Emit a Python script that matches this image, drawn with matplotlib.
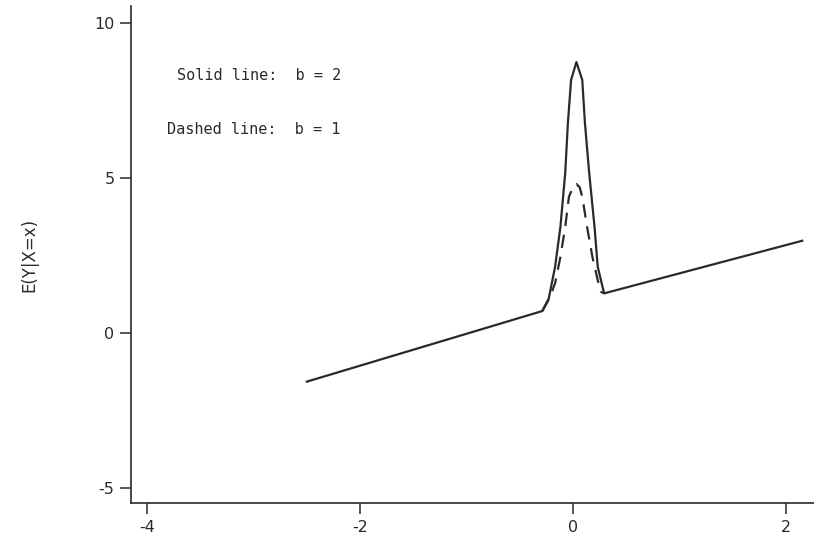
import numpy as np
from matplotlib import pyplot as plt

plt.rcParams["axes.unicode_minus"] = False

# values
# solid line, b = 2
x_solid = [-2.5, -0.29, -0.23, -0.17, -0.12, -0.075, -0.05, -0.02, 0.03,
           0.085, 0.11, 0.15, 0.20, 0.23, 0.29, 2.15]
y_solid = [-1.58, 0.70, 1.10, 2.13, 3.42, 5.16, 6.77, 8.16, 8.74,
           8.16, 6.77, 5.16, 3.42, 2.13, 1.27, 2.97]
# dashed line, b = 1 (only differs from the solid one near 0)
x_dash = [-0.29, -0.22, -0.17, -0.12, -0.075, -0.04, 0.0, 0.03, 0.06, 0.085, 0.13,
          0.18, 0.23, 0.26, 0.29]
y_dash = [0.70, 1.13, 1.60, 2.45, 3.42, 4.39, 4.72, 4.80, 4.70, 4.39, 3.42,
          2.45, 1.70, 1.32, 1.27]

xticks = [-4, -2, 0, 2]
yticks = [-5, 0, 5, 10]

fig = plt.figure(figsize=(8.14, 5.45), dpi=100)
ax = fig.add_axes([0.161, 0.077, 0.839, 0.912])

ax.plot(x_solid, y_solid, color="#2a2a2a", lw=1.6, solid_joinstyle="round")
ax.plot(x_dash, y_dash, color="#2a2a2a", lw=1.6, dashes=(6, 4))

ax.set_xlim(-4.15, 2.26)
ax.set_ylim(-5.5, 10.55)
ax.set_xticks(xticks)
ax.set_yticks(yticks)
ax.tick_params(direction="out", length=8, width=1.1, labelsize=11.5,
               colors="#2a2a2a", pad=4)
for side in ["top", "right"]:
    ax.spines[side].set_visible(False)
for side in ["left", "bottom"]:
    ax.spines[side].set_linewidth(1.2)
    ax.spines[side].set_color("#2a2a2a")

ax.set_ylabel("E(Y|X=x)", fontsize=12, color="#2a2a2a", labelpad=40)

ax.text(-3.72, 8.32, "Solid line:  b = 2", fontsize=11,
        family="DejaVu Sans Mono", color="#2a2a2a", va="center")
ax.text(-3.81, 6.55, "Dashed line:  b = 1", fontsize=11,
        family="DejaVu Sans Mono", color="#2a2a2a", va="center")

plt.savefig("out.png", dpi=100)
